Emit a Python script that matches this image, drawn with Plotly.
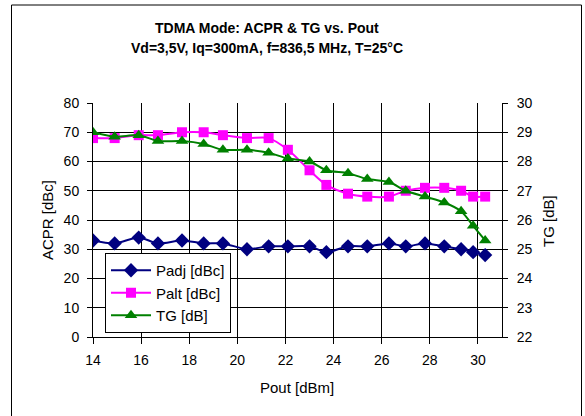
import plotly.graph_objects as go

pout = [14.0, 14.9, 15.9, 16.7, 17.7, 18.6, 19.4, 20.4, 21.3, 22.1, 23.0,
        23.7, 24.6, 25.4, 26.3, 27.0, 27.8, 28.6, 29.3, 29.8, 30.3]
padj = [33, 32, 34, 32, 33, 32, 32, 30, 31, 31, 31,
        29, 31, 31, 32, 31, 32, 31, 30, 29, 28]
palt = [68, 68, 69, 69, 70, 70, 69, 68, 68, 64, 57,
        52, 49, 48, 48, 50, 51, 51, 50, 48, 48]
tg = [29.0, 28.85, 28.9, 28.7, 28.7, 28.6, 28.4, 28.4, 28.3, 28.1, 28.0,
      27.7, 27.6, 27.4, 27.3, 27.0, 26.8, 26.6, 26.3, 25.8, 25.3]

title_l1 = "TDMA Mode: ACPR & TG vs. Pout"
title_l2 = "Vd=3,5V, Iq=300mA, f=836,5 MHz, T=25°C"

FONT = "Liberation Sans, Arial, sans-serif"

fig = go.Figure()
fig.add_trace(go.Scatter(x=pout, y=padj, name="Padj [dBc]", mode="lines+markers",
                         line=dict(color="#000080", width=2, shape="spline", smoothing=0.8),
                         marker=dict(symbol="diamond", size=11, color="#000080")))
fig.add_trace(go.Scatter(x=pout, y=palt, name="Palt [dBc]", mode="lines+markers",
                         line=dict(color="#FF00FF", width=2, shape="spline", smoothing=0.8),
                         marker=dict(symbol="square", size=10, color="#FF00FF")))
fig.add_trace(go.Scatter(x=pout, y=tg, name="TG [dB]", mode="lines+markers", yaxis="y2",
                         line=dict(color="#008000", width=2, shape="spline", smoothing=0.8),
                         marker=dict(symbol="triangle-up", size=11, color="#008000")))

W, H = 585, 416
L, R, T, B = 93, 83, 103, 79
pw, ph = W - L - R, H - T - B

def px(xp):
    return (xp - L) / pw

def py(yp):
    return (H - B - yp) / ph

fig.update_layout(
    width=W, height=H,
    margin=dict(l=L, r=R, t=T, b=B, pad=0),
    paper_bgcolor="white", plot_bgcolor="white",
    font=dict(family=FONT, size=14, color="black"),
    showlegend=True,
    legend=dict(x=px(105), y=py(253), xanchor="left", yanchor="top",
                bgcolor="white", bordercolor="black", borderwidth=1,
                font=dict(size=15), itemwidth=40),
    xaxis=dict(range=[14, 31], tickmode="array", tickvals=list(range(14, 31, 2)),
               showgrid=True, gridcolor="#000000", gridwidth=1,
               showline=True, linecolor="black", linewidth=1,
               ticks="outside", ticklen=6, tickcolor="black",
               ticklabelstandoff=4, zeroline=False),
    yaxis=dict(range=[0, 80], dtick=10, showgrid=True, gridcolor="#000000", gridwidth=1,
               showline=True, linecolor="black", linewidth=1,
               ticks="outside", ticklen=5, tickcolor="black",
               ticklabelstandoff=5, zeroline=False),
    yaxis2=dict(range=[22, 30], dtick=1, overlaying="y", side="right", showgrid=False,
                showline=True, linecolor="black", linewidth=1,
                ticks="outside", ticklen=5, tickcolor="black",
                ticklabelstandoff=6, zeroline=False),
)

annotations = [
    dict(text="<b>" + title_l1 + "</b>", x=px(267), y=py(28), font=dict(size=14)),
    dict(text="<b>" + title_l2 + "</b>", x=px(267), y=py(48), font=dict(size=14)),
    dict(text="ACPR [dBc]", x=px(47), y=py(220), textangle=-90, font=dict(size=15)),
    dict(text="TG [dB]", x=px(548), y=py(221), textangle=-90, font=dict(size=15)),
    dict(text="Pout [dBm]", x=px(297), y=py(387), font=dict(size=15)),
]
for a in annotations:
    a.update(xref="paper", yref="paper", xanchor="center", yanchor="middle", showarrow=False)
fig.update_layout(annotations=annotations)

fig.add_shape(type="rect", xref="paper", yref="paper",
              x0=px(11.5), x1=px(581.5), y0=py(425), y1=py(5),
              line=dict(color="black", width=1), fillcolor="rgba(0,0,0,0)", layer="below")

fig.write_html("out.html", config={"displayModeBar": False},
               post_script="document.body.style.margin='0px';document.body.style.overflow='hidden';")
